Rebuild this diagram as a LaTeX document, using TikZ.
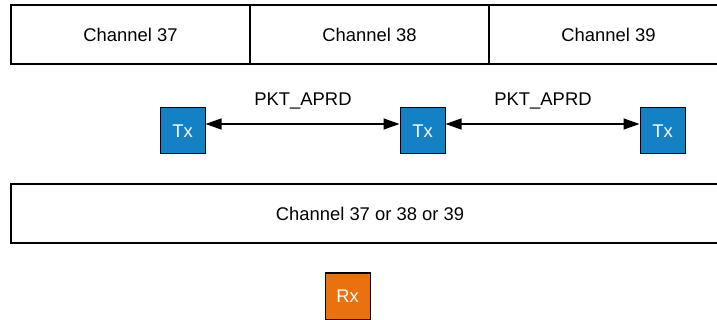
\documentclass[tikz,border=0pt]{standalone}
\usepackage{fontspec}
\setmainfont{Liberation Sans}
\usetikzlibrary{arrows.meta}
\definecolor{txblue}{HTML}{1581C5}
\definecolor{rxorange}{HTML}{E9720F}

\begin{document}
\begin{tikzpicture}[x=1pt, y=-1pt, font=\fontsize{18.4}{22}\selectfont,
  chan/.style={draw, line width=1.5pt, minimum width=239pt, minimum height=59pt, inner sep=0pt},
  dev/.style={draw, line width=1pt, text=white, minimum width=45pt, minimum height=46pt, inner sep=0pt},
  link/.style={line width=1.5pt, {Triangle[length=16pt, width=11pt]}-{Triangle[length=16pt, width=11pt]}}]
  \useasboundingbox (0,0) rectangle (717,320);
  \clip (0,0) rectangle (717,320);

  % advertising channels
  \node[chan] (C37) at (130.5,34.5) {Channel 37};
  \node[chan] (C38) at (369.5,34.5) {Channel 38};
  \node[chan] (C39) at (608.5,34.5) {Channel 39};

  % transmitters
  \node[dev, fill=txblue] (T1) at (182.5,131) {Tx};
  \node[dev, fill=txblue] (T2) at (422.5,131) {Tx};
  \node[dev, fill=txblue] (T3) at (662.5,131) {Tx};

  \draw[link] ([yshift=7pt]T1.east) to ([yshift=7pt]T2.west);
  \draw[link] ([yshift=7pt]T2.east) to ([yshift=7pt]T3.west);

  \node (P1) at (303,101) {PKT\_APRD};
  \node (P2) at (543,101) {PKT\_APRD};

  % receiver
  \node[chan, minimum width=718pt] (CR) at (370,213.5) {Channel 37 or 38 or 39};
  \node[dev, fill=rxorange] (R) at (347.5,296) {Rx};
\end{tikzpicture}
\end{document}
